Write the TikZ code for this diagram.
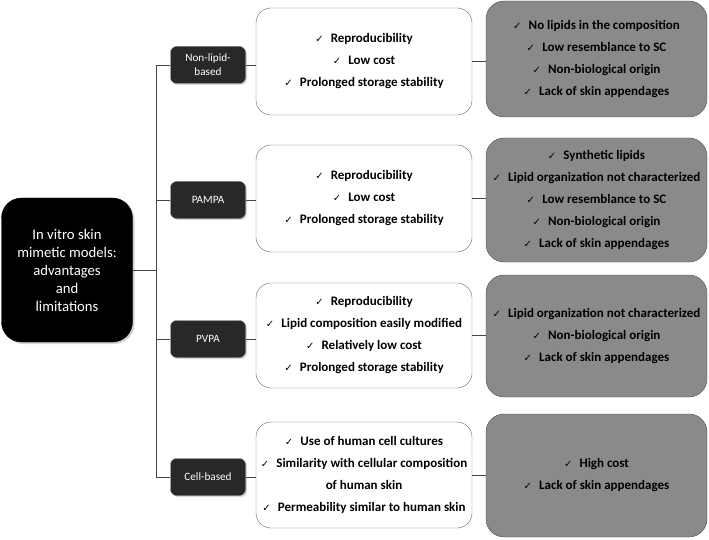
\documentclass[tikz,border=0pt]{standalone}
\usepackage{fontspec}
\setmainfont{Carlito}
\newfontfamily\symfont{DejaVu Sans}
\usetikzlibrary{positioning, calc, shadows}
\definecolor{darkbox}{RGB}{40,40,40}
\definecolor{greybox}{RGB}{138,138,138}
\definecolor{linegrey}{RGB}{70,70,70}
\newcommand{\chk}{{\symfont\fontsize{10}{10}\selectfont ✓}\hspace{0.55em}}

\begin{document}
\begin{tikzpicture}[x=1pt, y=-1pt,
  mainbox/.style={draw=black, fill=black, rounded corners=20pt, text=white, minimum width=131pt, minimum height=144pt, align=center, font=\fontsize{14.7}{18}\selectfont, drop shadow={opacity=0.35, shadow xshift=2pt, shadow yshift=-2pt}},
  catbox/.style={draw=gray, fill=darkbox, rounded corners=6pt, text=white, minimum width=75pt, minimum height=37pt, inner sep=2pt, align=center, font=\fontsize{11.2}{14}\selectfont, drop shadow={opacity=0.3, shadow xshift=1.5pt, shadow yshift=-1.5pt}},
  probox/.style={draw=gray!80!black, fill=white, rounded corners=15pt, minimum width=216pt, align=center, font=\bfseries\fontsize{13}{22}\selectfont},
  conbox/.style={draw=gray!60!black, fill=greybox, rounded corners=18pt, minimum width=221pt, align=center, font=\bfseries\fontsize{13}{22}\selectfont},
  link/.style={draw=linegrey, line width=0.8pt}
]
\useasboundingbox (0,0) rectangle (709,540);

% Central node
\node[mainbox] (main) at (67,270) {In vitro skin\\mimetic models:\\advantages\\and\\limitations};

% Model types
\node[catbox] (nonlipid) at (208,65) {Non-lipid-\\based};
\node[catbox] (pampa) at (208,200) {PAMPA};
\node[catbox] (pvpa) at (208,339) {PVPA};
\node[catbox] (cell) at (208,477) {Cell-based};

% Advantages
\node[probox, minimum height=107pt] (pro1) at (364,61.5) {\chk Reproducibility\\\chk Low cost\\\chk Prolonged storage stability};
\node[probox, minimum height=107pt] (pro2) at (364,198.5) {\chk Reproducibility\\\chk Low cost\\\chk Prolonged storage stability};
\node[probox, minimum height=105pt] (pro3) at (364,335.5) {\chk Reproducibility\\\chk Lipid composition easily modified\\\chk Relatively low cost\\\chk Prolonged storage stability};
\node[probox, minimum height=106pt] (pro4) at (364,475) {\chk Use of human cell cultures\\\chk Similarity with cellular composition\\of human skin\\\chk Permeability similar to human skin};

% Limitations
\node[conbox, minimum height=116pt] (con1) at (596.5,59) {\chk No lipids in the composition\\\chk Low resemblance to SC\\\chk Non-biological origin\\\chk Lack of skin appendages};
\node[conbox, minimum height=124pt] (con2) at (596.5,200) {\chk Synthetic lipids\\\chk Lipid organization not characterized\\\chk Low resemblance to SC\\\chk Non-biological origin\\\chk Lack of skin appendages};
\node[conbox, minimum height=122pt] (con3) at (596.5,336) {\chk Lipid organization not characterized\\\chk Non-biological origin\\\chk Lack of skin appendages};
\node[conbox, minimum height=123pt] (con4) at (596.5,475.5) {\chk High cost\\\chk Lack of skin appendages};

% Tree lines
\coordinate (trunk) at (156,270);
\draw[link] (main.east) -- (trunk);
\draw[link] (trunk |- nonlipid.west) -- (trunk |- cell.west);
\foreach \n in {nonlipid,pampa,pvpa,cell}
  \draw[link] (trunk |- \n.west) -- (\n.west);
\foreach \n/\p in {nonlipid/pro1,pampa/pro2,pvpa/pro3,cell/pro4}
  \draw[link] (\n.east) -- (\n.east -| \p.west);
\foreach \p/\c in {pro1/con1,pro2/con2,pro3/con3,pro4/con4}
  \draw[link] (\p.east) -- (\p.east -| \c.west);
\end{tikzpicture}
\end{document}
